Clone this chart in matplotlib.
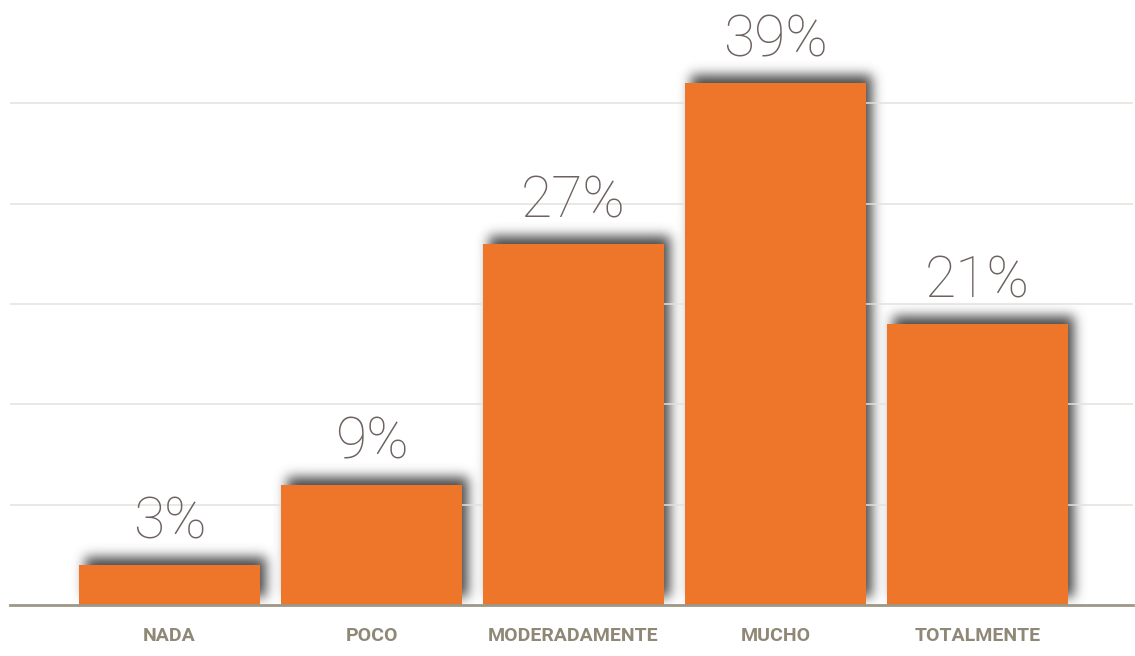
import numpy as np
import matplotlib
matplotlib.use("Agg")
import matplotlib.pyplot as plt

categories = ["NADA", "POCO", "MODERADAMENTE", "MUCHO", "TOTALMENTE"]
percent = [3, 9, 27, 39, 21]
value_labels = [f"{v}%" for v in percent]

BAR_COLOR = "#ee762a"
VALUE_COLOR = "#6e6261"
CAT_COLOR = "#8f8877"
GRID_COLOR = "#e3e1dc"
BASE_COLOR = "#9e9786"

W, H, DPI = 1135, 656, 100
fig = plt.figure(figsize=(W / DPI, H / DPI), dpi=DPI)
fig.patch.set_facecolor("white")
ax = fig.add_axes([10 / W, 51 / H, 1123 / W, 602 / H])

x = np.arange(len(categories))
bars = ax.bar(x, percent, width=0.9, color=BAR_COLOR, zorder=3)

ax.set_xlim(-0.79, 4.77)
ax.set_ylim(0, 45)
ax.set_yticks(np.arange(7.5, 45, 7.5))
ax.yaxis.grid(True, color=GRID_COLOR, lw=1.1, zorder=1)
ax.set_axisbelow(True)
ax.tick_params(axis="y", left=False, labelleft=False)
ax.set_xticks(x)
ax.set_xticklabels(categories, fontfamily="Roboto", fontweight="bold",
                   fontsize=14, color=CAT_COLOR)
ax.tick_params(axis="x", bottom=False, pad=12.5)
for side in ("left", "right", "top"):
    ax.spines[side].set_visible(False)
ax.spines["bottom"].set_color(BASE_COLOR)
ax.spines["bottom"].set_linewidth(2)
ax.spines["bottom"].set_zorder(5)

for xi, v, lab in zip(x, percent, value_labels):
    ax.annotate(lab, (xi, v), xytext=(0, 19), textcoords="offset points",
                ha="center", va="baseline", fontsize=41, fontweight="light",
                family="Roboto", color=VALUE_COLOR, zorder=4)

# soft drop shadow behind each bar, rendered as a blurred raster layer
fig.canvas.draw()
abb = ax.get_window_extent()
aw, ah = int(round(abb.width)), int(round(abb.height))
margin = 50
mask = np.zeros((ah + 2 * margin, aw + 2 * margin))
dx, dy = 6, 8
for b in bars:
    bb = b.get_window_extent()
    c0 = int(round(bb.x0 - abb.x0 + dx)) + margin
    c1 = int(round(bb.x1 - abb.x0 + dx)) + margin
    r0 = int(round(bb.y0 - abb.y0 + dy)) + margin
    r1 = int(round(bb.y1 - abb.y0 + dy)) + margin
    mask[r0:r1, c0:c1] = 1.0

sigma = 6.0
rad = int(3 * sigma)
k = np.exp(-0.5 * (np.arange(-rad, rad + 1) / sigma) ** 2)
k /= k.sum()
blur = np.zeros_like(mask)
for i, w in enumerate(k):
    blur += w * np.roll(mask, i - rad, axis=1)
blur2 = np.zeros_like(blur)
for i, w in enumerate(k):
    blur2 += w * np.roll(blur, i - rad, axis=0)
blur2 = blur2[margin:margin + ah, margin:margin + aw]

shadow = np.zeros((ah, aw, 4))
shadow[..., :3] = 0.2
shadow[..., 3] = np.clip(blur2, 0, 1) * 0.9
xl, yl = ax.get_xlim(), ax.get_ylim()
ax.imshow(shadow, extent=(xl[0], xl[1], yl[0], yl[1]), origin="lower",
          aspect="auto", zorder=0.3, interpolation="bilinear")
ax.set_xlim(xl)
ax.set_ylim(yl)

fig.savefig("out.png", dpi=DPI, facecolor="white")
